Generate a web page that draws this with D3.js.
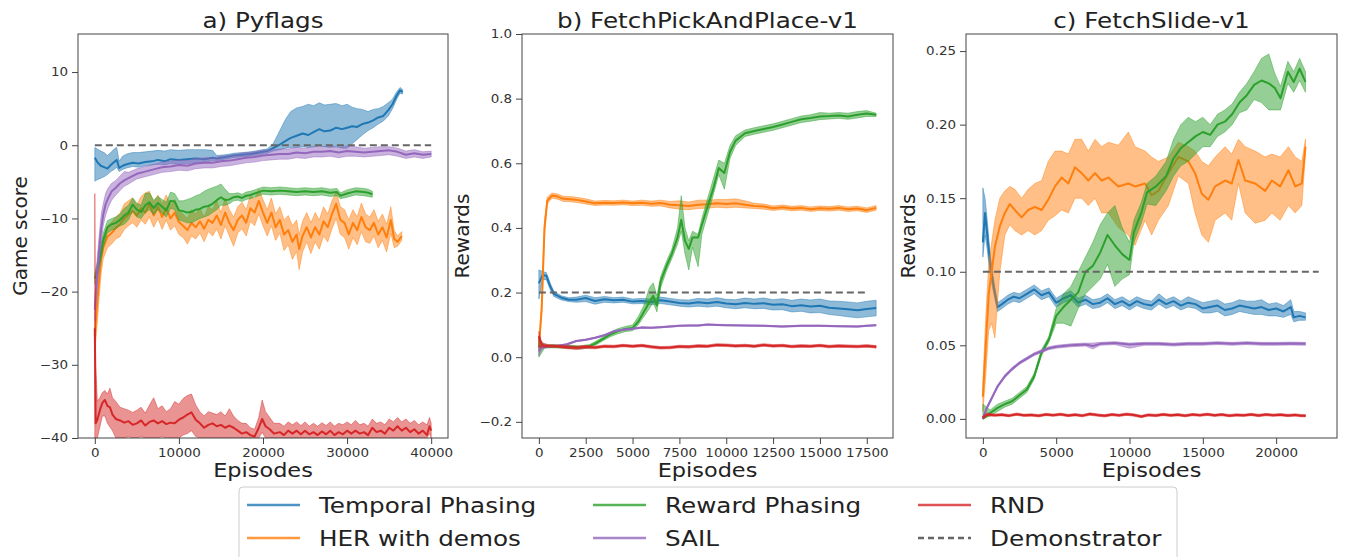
<!DOCTYPE html>
<html>
<head>
<meta charset="utf-8">
<script src="https://cdn.jsdelivr.net/npm/d3@7"></script>
<style>
  body { margin: 0; background: #fff; }
  text { font-family: "DejaVu Sans", sans-serif; }
</style>
</head>
<body>
<svg id="chart" width="1345" height="557"></svg>
<script>
// ---------------- data ----------------
// every row is [episode, mean, band low, band high]

var legendNames = ['Temporal Phasing', 'HER with demos', 'Reward Phasing', 'SAIL', 'RND', 'Demonstrator']
var panelTitles = ['a) Pyflags', 'b) FetchPickAndPlace-v1', 'c) FetchSlide-v1']
var yTitles = ['Game score', 'Rewards', 'Rewards']
var xTitle = 'Episodes'

// a) Pyflags
var pyXTicks = [0, 10000, 20000, 30000, 40000]
var pyYTicks = [-40, -30, -20, -10, 0, 10]
var pyYLabels = ['\u221240', '\u221230', '\u221220', '\u221210', '0', '10']
var pyDemo = [[0, 0], [40000, 0]]

var pyTemporal = [
  [0,-1.7,-4.9,-0.3],[300,-2.3,-4.7,-0.5],[700,-2.8,-4.5,-0.8],[1100,-3.0,-4.3,-1.0],[1500,-3.2,-4.0,-1.4],
  [1900,-2.7,-3.6,-1.0],[2300,-2.3,-3.3,-0.5],[2600,-2.0,-3.0,-0.3],[2900,-3.1,-3.6,-2.2],[3300,-2.8,-3.3,-1.5],
  [3800,-2.6,-3.1,-1.2],[4500,-2.4,-2.9,-1.0],[5200,-2.5,-3.0,-1.0],[6000,-2.3,-2.8,-0.9],[6800,-2.2,-2.7,-0.8],
  [7500,-2.0,-2.6,-0.7],[8300,-2.2,-2.7,-0.8],[9000,-1.9,-2.5,-0.6],[10000,-2.0,-2.6,-0.7],[11000,-1.9,-2.5,-0.6],
  [12000,-1.8,-2.4,-0.6],[13000,-1.9,-2.4,-0.6],[14000,-1.7,-2.1,-0.7],[14500,-1.8,-2.1,-1.4],[15500,-1.6,-1.9,-1.3],
  [16500,-1.4,-1.7,-1.1],[17500,-1.3,-1.6,-1.0],[18500,-1.2,-1.5,-0.9],[19500,-1.0,-1.3,-0.7],[20500,-0.8,-1.1,-0.5],
  [21200,-0.4,-0.8,0.2],[22000,0.1,-0.6,2.0],[22700,0.6,-0.4,3.6],[23300,1.0,-0.3,4.6],[24000,1.3,-0.3,5.1],
  [24700,1.6,-0.2,5.3],[25400,1.4,-0.3,5.6],[26000,1.8,-0.2,5.4],[26700,2.2,-0.1,5.8],[27300,1.9,-0.2,5.5],
  [28000,2.0,-0.3,5.6],[28700,2.4,-0.2,5.7],[29400,2.2,-0.4,5.4],[30000,2.4,-0.4,5.6],[30600,2.6,0.2,5.2],
  [31200,2.5,0.8,5.0],[31800,2.9,1.4,4.9],[32500,3.1,2.0,4.6],[33100,3.4,2.4,4.9],[33700,3.8,2.9,5.0],
  [34300,4.0,3.3,5.3],[34900,4.8,4.0,5.8],[35400,5.6,5.0,6.3],[35900,6.8,6.3,7.3],[36300,7.5,7.1,7.9],[36600,7.3,7.0,7.6]
]
var pyHer = [
  [0,-26,-28,-23],[250,-22,-25,-19],[500,-18.5,-21,-16],[750,-15.5,-17.5,-13.5],[1000,-14,-15.5,-12.5],
  [1500,-12.5,-14,-11],[2000,-12,-13.5,-10.5],[2500,-11.3,-12.8,-9.8],[3000,-10.8,-12.5,-9.3],[3500,-10,-11.5,-8],
  [4000,-9.5,-11,-7.6],[4500,-9,-10.6,-7.2],[5000,-9.6,-11.2,-8.2],[5500,-8.6,-10.2,-7],[6000,-9.2,-10.8,-6.5],
  [6500,-8,-9.8,-6.3],[7000,-9.6,-11.2,-7.8],[7500,-8.4,-10,-6.8],[8000,-9.8,-11.5,-8],[8500,-8.6,-10.2,-6.8],
  [9000,-10,-11.6,-8.2],[9500,-9.2,-11,-7.4],[10000,-10.5,-12.2,-8.8],[10500,-11,-12.6,-9.4],[11000,-11.6,-13.5,-10],
  [11500,-10.6,-12.4,-8.8],[12000,-11.2,-12.8,-9.4],[12500,-10.4,-12,-8.6],[13000,-11.4,-13.2,-9.8],[13500,-10.2,-11.8,-8.4],
  [14000,-10.6,-12.4,-8.8],[14500,-9.6,-11.4,-7.6],[15000,-10.9,-12.8,-9.2],[15500,-9.2,-11,-7.2],[16000,-10.6,-12.4,-8.8],
  [16500,-11.6,-13.8,-9.8],[17000,-10.2,-12,-8.4],[17500,-9.6,-11.4,-7.8],[18000,-10.6,-12.4,-8.8],[18500,-8.6,-10.4,-6.8],
  [19000,-9.2,-11,-7.4],[19500,-7.6,-9.4,-6],[20000,-9.2,-11,-7.4],[20500,-10.6,-12.4,-8.8],[21000,-9.2,-11,-7.2],
  [21500,-11.2,-13,-9.4],[22000,-10.2,-12,-8.4],[22500,-12.2,-14.4,-10.2],[23000,-11.6,-13.6,-9.6],[23500,-13.2,-15.6,-11],
  [24000,-12.2,-14.5,-10.2],[24300,-14.2,-17.0,-12.2],[24700,-12.4,-14.6,-10.4],[25200,-11.2,-13.2,-9.2],[25700,-12.6,-14.8,-10.6],
  [26200,-11.2,-13.2,-9.2],[26700,-12.2,-14.2,-10.2],[27200,-10.4,-12.4,-8.4],[27700,-11.2,-13.2,-9.4],[28200,-9.4,-11.4,-7.6],
  [28700,-8.0,-10,-6.4],[29200,-10.2,-12.2,-8.4],[29700,-10.6,-12.6,-8.8],[30200,-12.2,-14.2,-10.2],[30700,-10.6,-12.6,-8.8],
  [31200,-11.6,-13.6,-9.8],[31700,-9.8,-11.8,-7.9],[32200,-11.2,-13.2,-9.4],[32700,-11.6,-13.4,-9.8],[33200,-10.6,-12.4,-8.8],
  [33700,-12.2,-14,-10.4],[34200,-11.2,-13,-9.4],[34700,-12.6,-14.6,-10.8],[35200,-10.2,-12,-8.4],[35600,-12.8,-14,-11.6],
  [36000,-13.2,-13.8,-12.4],[36500,-12.4,-13,-11.8]
]
var pyReward = [
  [0,-18.2,-19,-17.4],[300,-17,-18,-16],[600,-15.5,-16.5,-14.5],[1000,-13,-14,-12],[1500,-11.2,-12,-10.3],
  [2000,-10.8,-11.6,-10],[2500,-10.6,-11.4,-9.8],[3000,-10.2,-11,-9.4],[3500,-9.6,-10.8,-8.6],[4000,-9.2,-10.2,-8.2],
  [4500,-8.1,-9,-7.2],[5000,-8.8,-9.8,-7.9],[5500,-9.1,-10,-8.2],[6000,-8.2,-9.2,-6.6],[6500,-7.8,-8.8,-6.5],
  [7000,-8.6,-9.5,-7.5],[7500,-7.9,-8.8,-7],[8000,-8.4,-9.3,-7.4],[8500,-8.9,-9.8,-7.8],[9000,-7.6,-8.6,-6.4],
  [9500,-7.7,-8.8,-6.6],[10000,-8.9,-10.2,-7.6],[10500,-9.0,-10.4,-7.6],[11000,-9.2,-10.6,-7.4],[11500,-9.1,-10.6,-7.2],
  [12000,-8.8,-10.3,-6.9],[12500,-8.7,-10.0,-6.7],[13000,-8.4,-9.8,-6.3],[13500,-8.3,-9.6,-6.0],[14000,-8.0,-9.2,-5.8],
  [14500,-7.5,-8.8,-5.6],[15000,-7.1,-8.2,-5.3],[15500,-7.5,-8.2,-6.0],[16000,-7.4,-8.0,-6.6],[16500,-7.1,-7.6,-6.6],
  [17000,-7.0,-7.5,-6.5],[17500,-7.2,-7.7,-6.7],[18000,-6.9,-7.4,-6.4],[18500,-6.8,-7.3,-6.3],[19000,-6.6,-7.1,-6.1],
  [19500,-6.4,-6.9,-5.9],[20000,-6.2,-6.7,-5.7],[21000,-6.3,-6.8,-5.8],[22000,-6.2,-6.7,-5.7],[23000,-6.3,-6.8,-5.8],
  [24000,-6.4,-6.9,-5.9],[25000,-6.3,-6.8,-5.8],[26000,-6.4,-6.9,-5.9],[27000,-6.3,-6.8,-5.8],[28000,-6.5,-7.0,-6.0],
  [28800,-6.4,-6.9,-5.9],[29200,-6.9,-7.3,-6.5],[30000,-6.6,-7.1,-6.1],[31000,-6.3,-6.8,-5.8],[32000,-6.4,-6.9,-5.9],
  [32500,-6.5,-7.0,-6.0],[33000,-6.7,-7.1,-6.3]
]
var pySail = [
  [0,-22.5,-24,-21],[250,-18,-20,-16],[500,-14.5,-16.5,-12.5],[750,-11.5,-13.5,-9.5],[1000,-9.5,-11,-8],
  [1300,-8,-9.5,-6.5],[1600,-7.2,-8.5,-5.8],[2000,-6.3,-7.5,-5.2],[2500,-5.8,-6.8,-4.8],[3000,-5.2,-6.2,-4.2],
  [3500,-4.8,-5.6,-3.6],[4000,-4.5,-5.3,-3.7],[5000,-3.9,-4.6,-3.2],[6000,-3.6,-4.3,-2.9],[7000,-3.3,-4.0,-2.6],
  [8000,-3.0,-3.7,-2.3],[9000,-2.9,-3.6,-2.2],[10000,-2.7,-3.4,-2.0],[11000,-2.8,-3.5,-2.1],[12000,-2.5,-3.2,-1.8],
  [13000,-2.4,-3.1,-1.7],[14000,-2.4,-3.1,-1.7],[15000,-2.2,-2.9,-1.5],[16000,-2.1,-2.8,-1.4],[17000,-1.9,-2.6,-1.2],
  [18000,-1.7,-2.4,-1.0],[19000,-1.6,-2.3,-0.9],[20000,-1.4,-2.1,-0.7],[21000,-1.3,-2.0,-0.6],[22000,-1.2,-1.9,-0.5],
  [23000,-1.2,-1.9,-0.5],[24000,-1.0,-1.7,-0.3],[25000,-1.1,-1.8,-0.4],[26000,-0.9,-1.6,-0.2],[27000,-0.9,-1.6,-0.2],
  [28000,-0.8,-1.5,-0.1],[29000,-1.0,-1.7,-0.3],[30000,-0.8,-1.5,-0.1],[31000,-0.9,-1.5,-0.2],[32000,-1.0,-1.6,-0.4],
  [33000,-0.9,-1.5,-0.3],[34000,-0.8,-1.4,-0.2],[35000,-0.7,-1.3,-0.2],[36000,-0.9,-1.5,-0.4],[37000,-1.3,-1.8,-0.8],
  [38000,-1.1,-1.6,-0.6],[39000,-1.3,-1.8,-0.9],[40000,-1.2,-1.6,-0.8]
]
var pyRnd = [
  [0,-25,-40,-6.6],[100,-38,-40,-30],[300,-37.5,-40,-35],[600,-36.2,-38.5,-34.5],[900,-35.2,-37,-33.8],
  [1200,-34.8,-37,-33.5],[1500,-35.6,-38,-34],[1800,-35.8,-38.5,-33.2],[2100,-36.8,-39,-34.5],[2500,-37.4,-40,-35],
  [3000,-37.6,-40,-35.8],[3500,-37.9,-40,-36],[4000,-37.7,-39.8,-36.2],[4500,-38.2,-40,-36.5],[5000,-38.0,-40,-36.2],
  [5500,-37.6,-39.8,-35.8],[6000,-38.3,-40,-36.6],[6500,-37.8,-40,-35.5],[7000,-37.6,-40,-34.5],[7500,-38.0,-40,-36],
  [8000,-37.7,-39.8,-35.6],[8500,-38.1,-40,-36.4],[9000,-37.9,-40,-36],[9500,-38.0,-40,-35],[10000,-37.5,-40,-35.4],
  [10500,-37.2,-39.6,-34.6],[11000,-36.8,-39.4,-34.2],[11500,-36.5,-39,-34],[12000,-37.5,-39.8,-35.5],[12500,-38.0,-40,-36.4],
  [13000,-38.6,-40,-37],[13500,-38.2,-40,-36.4],[14000,-38.0,-40,-36.6],[14500,-38.4,-40,-36.8],[15000,-38.2,-40,-36.4],
  [15500,-38.6,-40,-37],[16000,-38.3,-40,-36],[16500,-38.6,-40,-37],[17000,-39.0,-40,-37.6],[17500,-39.4,-40,-38],
  [18000,-39.2,-40,-38],[18500,-39.6,-40,-38.6],[19000,-39.8,-40,-38.8],[19500,-38.6,-40,-37.2],[19900,-37.4,-39.2,-34.8],
  [20300,-38.4,-40,-36.4],[20800,-38.8,-40,-37.2],[21300,-39.4,-40,-38],[22000,-39.2,-40,-38],[22500,-39.6,-40,-38.4],
  [23000,-39.0,-40,-37.8],[23500,-39.4,-40,-38.2],[24000,-39.0,-40,-37.8],[24500,-39.5,-40,-38.3],[25000,-39.0,-40,-37.8],
  [25500,-39.5,-40,-38.4],[26000,-39.2,-40,-38],[26500,-39.6,-40,-38.4],[27000,-39.1,-40,-37.9],[27500,-39.5,-40,-38.3],
  [28000,-39.0,-40,-37.8],[28500,-39.6,-40,-38.4],[29000,-39.2,-40,-38],[29500,-39.5,-40,-38.2],[30000,-39.0,-40,-37.8],
  [30500,-39.4,-40,-38.2],[31000,-39.0,-40,-37.6],[31500,-39.4,-40,-38.2],[32000,-39.2,-40,-38],[32500,-39.6,-40,-38.4],
  [33000,-38.6,-40,-37.4],[33500,-39.2,-40,-38],[34000,-39.0,-40,-37.8],[34500,-39.4,-40,-38.2],[35000,-38.6,-40,-37.4],
  [35500,-39.0,-40,-37.8],[36000,-38.4,-40,-37.2],[36500,-39.0,-40,-37.8],[37000,-38.6,-40,-37.4],[37500,-39.2,-40,-38],
  [38000,-38.8,-40,-37.6],[38500,-39.4,-40,-38.2],[39000,-39.0,-40,-37.8],[39500,-39.6,-40,-38.2],[39800,-38.4,-39.4,-37.2],
  [40000,-39.0,-40,-38]
]

// b) FetchPickAndPlace-v1
var fpXTicks = [0, 2500, 5000, 7500, 10000, 12500, 15000, 17500]
var fpYTicks = [-0.2, 0, 0.2, 0.4, 0.6, 0.8, 1.0]
var fpYLabels = ['\u22120.2', '0.0', '0.2', '0.4', '0.6', '0.8', '1.0']
var fpDemo = [[0, 0.2], [17500, 0.2]]

var fpTemporal = [
  [0,0.229,0.18,0.27],[200,0.254,0.24,0.265],[400,0.252,0.24,0.262],[600,0.22,0.21,0.23],[800,0.196,0.188,0.204],
  [1200,0.184,0.177,0.19],[1600,0.178,0.172,0.184],[2000,0.178,0.17,0.186],[2500,0.183,0.172,0.192],[3000,0.174,0.164,0.184],
  [3500,0.179,0.17,0.188],[4000,0.176,0.168,0.184],[4500,0.178,0.17,0.186],[5000,0.172,0.165,0.18],[5500,0.174,0.166,0.182],
  [6000,0.171,0.162,0.18],[6500,0.176,0.166,0.186],[7000,0.172,0.162,0.182],[7500,0.168,0.158,0.178],[8000,0.166,0.155,0.177],
  [8500,0.17,0.158,0.182],[9000,0.167,0.155,0.18],[9500,0.171,0.158,0.184],[10000,0.166,0.153,0.179],[10500,0.164,0.15,0.178],
  [11000,0.168,0.153,0.183],[11500,0.165,0.15,0.18],[12000,0.167,0.151,0.183],[12500,0.162,0.146,0.178],[13000,0.164,0.147,0.181],
  [13500,0.158,0.14,0.176],[14000,0.161,0.142,0.18],[14500,0.157,0.137,0.177],[15000,0.159,0.138,0.18],[15500,0.153,0.132,0.174],
  [16000,0.151,0.129,0.173],[16500,0.148,0.125,0.171],[17000,0.145,0.122,0.168],[17500,0.149,0.125,0.173],[18000,0.152,0.128,0.176]
]
var fpHer = [
  [0,0.03,0.02,0.04],[150,0.15,0.13,0.17],[300,0.4,0.38,0.42],[450,0.485,0.475,0.495],[700,0.5,0.492,0.508],
  [1000,0.497,0.489,0.505],[1300,0.49,0.482,0.498],[1700,0.489,0.481,0.497],[2100,0.486,0.478,0.494],[2500,0.482,0.474,0.49],
  [3000,0.476,0.469,0.483],[3500,0.478,0.471,0.485],[4000,0.477,0.47,0.484],[4500,0.479,0.472,0.486],[5000,0.476,0.469,0.483],
  [5500,0.478,0.47,0.486],[6000,0.475,0.467,0.483],[6500,0.477,0.468,0.486],[7000,0.472,0.462,0.482],[7500,0.47,0.458,0.484],
  [8000,0.468,0.456,0.48],[8500,0.472,0.46,0.486],[9000,0.473,0.461,0.486],[9500,0.476,0.464,0.488],[10000,0.474,0.462,0.488],
  [10500,0.476,0.464,0.49],[11000,0.472,0.462,0.484],[11500,0.468,0.46,0.476],[12000,0.466,0.458,0.474],[12500,0.461,0.454,0.468],
  [13000,0.464,0.457,0.471],[13500,0.46,0.453,0.467],[14000,0.462,0.455,0.469],[14500,0.458,0.451,0.465],[15000,0.461,0.454,0.468],
  [15500,0.459,0.452,0.466],[16000,0.462,0.455,0.469],[16500,0.458,0.451,0.465],[17000,0.46,0.453,0.467],[17500,0.455,0.448,0.462],
  [18000,0.462,0.455,0.469]
]
var fpReward = [
  [0,0.035,0.0,0.06],[300,0.033,0.028,0.038],[700,0.034,0.029,0.039],[1200,0.033,0.028,0.038],[1700,0.032,0.027,0.037],
  [2200,0.03,0.025,0.035],[2700,0.034,0.029,0.039],[3000,0.042,0.036,0.048],[3400,0.056,0.05,0.062],[3800,0.07,0.063,0.077],
  [4200,0.08,0.072,0.088],[4600,0.087,0.079,0.095],[5000,0.09,0.082,0.1],[5300,0.11,0.1,0.125],[5600,0.14,0.125,0.16],
  [5900,0.17,0.15,0.215],[6100,0.19,0.17,0.23],[6300,0.16,0.14,0.19],[6500,0.235,0.215,0.25],[6800,0.28,0.265,0.295],
  [7100,0.32,0.305,0.335],[7400,0.37,0.35,0.4],[7600,0.425,0.39,0.5],[7800,0.36,0.32,0.4],[8000,0.335,0.27,0.36],
  [8200,0.37,0.34,0.39],[8500,0.37,0.28,0.38],[8700,0.41,0.38,0.43],[9000,0.465,0.44,0.49],[9300,0.52,0.5,0.55],
  [9600,0.585,0.565,0.61],[9900,0.57,0.52,0.6],[10200,0.635,0.615,0.655],[10500,0.67,0.655,0.685],[11000,0.693,0.683,0.703],
  [11500,0.7,0.69,0.71],[12000,0.706,0.696,0.716],[12500,0.712,0.702,0.722],[13000,0.72,0.71,0.73],[13500,0.728,0.718,0.738],
  [14000,0.736,0.726,0.746],[14500,0.74,0.73,0.75],[15000,0.745,0.735,0.757],[15500,0.746,0.737,0.755],[16000,0.748,0.739,0.757],
  [16500,0.745,0.736,0.755],[17000,0.75,0.74,0.76],[17500,0.754,0.745,0.763],[18000,0.75,0.745,0.755]
]
var fpSail = [
  [0,0.018,0.005,0.035],[150,0.03,0.025,0.035],[500,0.034,0.032,0.036],[1000,0.035,0.033,0.037],[1500,0.04,0.038,0.042],
  [2000,0.05,0.048,0.052],[2500,0.054,0.052,0.056],[3000,0.06,0.058,0.062],[3500,0.068,0.066,0.07],[4000,0.08,0.078,0.082],
  [4500,0.085,0.083,0.087],[5000,0.088,0.086,0.09],[5500,0.092,0.09,0.094],[6000,0.091,0.089,0.093],[6500,0.093,0.091,0.095],
  [7000,0.095,0.093,0.097],[7500,0.097,0.095,0.099],[8000,0.098,0.096,0.1],[8500,0.098,0.096,0.1],[9000,0.101,0.099,0.103],
  [9500,0.1,0.098,0.102],[10000,0.099,0.097,0.101],[11000,0.098,0.096,0.1],[12000,0.097,0.095,0.099],[13000,0.095,0.093,0.097],
  [14000,0.097,0.095,0.099],[15000,0.097,0.095,0.099],[16000,0.096,0.094,0.098],[17000,0.095,0.093,0.097],[17500,0.097,0.095,0.099],
  [18000,0.099,0.097,0.101]
]
var fpRnd = [
  [0,0.065,0.03,0.08],[150,0.038,0.03,0.045],[500,0.035,0.031,0.039],[1000,0.034,0.03,0.038],[1500,0.031,0.026,0.036],
  [2000,0.029,0.024,0.034],[2500,0.032,0.027,0.037],[3000,0.03,0.026,0.034],[3500,0.034,0.03,0.038],[4000,0.033,0.029,0.037],
  [4500,0.036,0.032,0.04],[5000,0.034,0.03,0.038],[5500,0.036,0.032,0.04],[6000,0.032,0.028,0.036],[6500,0.029,0.025,0.033],
  [7000,0.03,0.026,0.034],[7500,0.033,0.029,0.037],[8000,0.032,0.028,0.036],[8500,0.035,0.031,0.039],[9000,0.034,0.03,0.038],
  [9500,0.038,0.034,0.042],[10000,0.037,0.033,0.041],[10500,0.035,0.031,0.039],[11000,0.036,0.032,0.04],[11500,0.034,0.03,0.038],
  [12000,0.038,0.034,0.042],[12500,0.035,0.031,0.039],[13000,0.036,0.032,0.04],[13500,0.033,0.029,0.037],[14000,0.035,0.031,0.039],
  [14500,0.034,0.03,0.038],[15000,0.036,0.032,0.04],[15500,0.033,0.029,0.037],[16000,0.035,0.031,0.039],[16500,0.034,0.03,0.038],
  [17000,0.033,0.029,0.037],[17500,0.035,0.031,0.039],[18000,0.032,0.028,0.036]
]

// c) FetchSlide-v1
var fsXTicks = [0, 5000, 10000, 15000, 20000]
var fsYTicks = [0, 0.05, 0.10, 0.15, 0.20, 0.25]
var fsYLabels = ['0.00', '0.05', '0.10', '0.15', '0.20', '0.25']
var fsDemo = [[0, 0.1], [22900, 0.1]]

var fsTemporal = [
  [0,0.12,0.11,0.157],[150,0.14,0.125,0.15],[300,0.125,0.115,0.135],[500,0.105,0.098,0.112],[700,0.092,0.087,0.097],
  [1000,0.076,0.073,0.079],[1300,0.078,0.075,0.081],[1700,0.081,0.078,0.084],[2100,0.083,0.08,0.086],[2500,0.082,0.079,0.085],
  [3000,0.085,0.082,0.088],[3500,0.088,0.085,0.091],[4000,0.084,0.081,0.087],[4500,0.086,0.083,0.089],[5000,0.079,0.076,0.082],
  [5500,0.082,0.079,0.085],[6000,0.084,0.081,0.087],[6500,0.079,0.076,0.082],[7000,0.081,0.078,0.084],[7500,0.078,0.075,0.081],
  [8000,0.079,0.076,0.082],[8500,0.082,0.079,0.085],[9000,0.078,0.075,0.081],[9500,0.08,0.077,0.083],[10000,0.077,0.074,0.08],
  [10500,0.08,0.077,0.083],[11000,0.078,0.075,0.081],[11500,0.077,0.074,0.08],[12000,0.081,0.078,0.085],[12500,0.078,0.075,0.081],
  [13000,0.08,0.077,0.083],[13500,0.077,0.074,0.08],[14000,0.079,0.076,0.083],[14500,0.078,0.075,0.081],[15000,0.075,0.072,0.079],
  [15500,0.076,0.072,0.08],[16000,0.077,0.073,0.081],[16500,0.074,0.07,0.078],[17000,0.075,0.071,0.079],[17500,0.077,0.073,0.081],
  [18000,0.076,0.072,0.08],[18500,0.075,0.071,0.08],[19000,0.076,0.071,0.081],[19500,0.074,0.07,0.078],[20000,0.075,0.07,0.079],
  [20500,0.073,0.069,0.077],[21000,0.076,0.071,0.081],[21200,0.069,0.066,0.073],[21600,0.07,0.067,0.073],[22000,0.069,0.067,0.072]
]
var fsHer = [
  [0,0.015,0.005,0.025],[200,0.05,0.03,0.07],[400,0.085,0.06,0.105],[600,0.1,0.065,0.12],[820,0.117,0.055,0.135],
  [1160,0.131,0.1,0.15],[1500,0.14,0.125,0.155],[1840,0.146,0.132,0.158],[2180,0.142,0.128,0.156],[2640,0.137,0.125,0.15],
  [3090,0.142,0.128,0.156],[3550,0.144,0.125,0.16],[4010,0.142,0.128,0.162],[4460,0.149,0.135,0.175],[4920,0.158,0.138,0.182],
  [5370,0.164,0.142,0.182],[5830,0.16,0.14,0.18],[6280,0.171,0.15,0.19],[6740,0.167,0.15,0.19],[7190,0.162,0.145,0.182],
  [7650,0.167,0.15,0.19],[8100,0.162,0.14,0.185],[8560,0.164,0.14,0.188],[9240,0.158,0.13,0.186],[9920,0.16,0.125,0.195],
  [10380,0.158,0.118,0.185],[11060,0.16,0.135,0.182],[11510,0.152,0.125,0.178],[11970,0.155,0.135,0.175],[12650,0.167,0.145,0.178],
  [13330,0.178,0.165,0.188],[14020,0.175,0.16,0.185],[14470,0.167,0.14,0.182],[14930,0.153,0.125,0.175],[15380,0.149,0.12,0.172],
  [15840,0.158,0.135,0.178],[16520,0.162,0.14,0.185],[16970,0.16,0.135,0.18],[17430,0.176,0.16,0.19],[17890,0.162,0.14,0.185],
  [18570,0.16,0.133,0.182],[19250,0.155,0.135,0.178],[19710,0.162,0.14,0.18],[20270,0.158,0.135,0.178],[20840,0.169,0.145,0.185],
  [21300,0.158,0.14,0.178],[21750,0.16,0.145,0.175],[22000,0.185,0.18,0.19]
]
var fsReward = [
  [0,0.0,0.0,0.01],[500,0.004,0.002,0.006],[1000,0.0075,0.005,0.01],[1500,0.01,0.008,0.012],[2000,0.012,0.01,0.014],
  [2500,0.016,0.014,0.018],[3000,0.02,0.018,0.022],[3500,0.029,0.027,0.031],[4000,0.045,0.043,0.047],[4500,0.054,0.052,0.056],
  [5000,0.07,0.065,0.075],[5500,0.076,0.065,0.085],[6000,0.081,0.063,0.09],[6500,0.086,0.075,0.1],[7000,0.1,0.085,0.11],
  [7500,0.104,0.09,0.12],[8000,0.113,0.095,0.132],[8500,0.125,0.105,0.14],[9000,0.118,0.09,0.145],[9500,0.112,0.095,0.13],
  [10000,0.108,0.098,0.12],[10300,0.127,0.12,0.135],[10800,0.14,0.133,0.147],[11200,0.154,0.146,0.16],[11800,0.158,0.145,0.165],
  [12500,0.165,0.155,0.175],[13000,0.177,0.165,0.19],[13500,0.184,0.172,0.2],[14000,0.188,0.175,0.205],[14500,0.192,0.18,0.202],
  [15000,0.195,0.185,0.205],[15500,0.193,0.185,0.2],[16000,0.2,0.192,0.207],[16500,0.202,0.195,0.21],[17000,0.207,0.2,0.214],
  [17500,0.215,0.208,0.222],[18000,0.22,0.21,0.228],[18500,0.227,0.217,0.236],[19000,0.23,0.215,0.245],[19500,0.228,0.21,0.248],
  [19900,0.225,0.21,0.235],[20300,0.218,0.21,0.226],[20800,0.236,0.228,0.243],[21200,0.229,0.222,0.236],[21600,0.238,0.23,0.245],
  [22000,0.229,0.222,0.236]
]
var fsSail = [
  [0,0.0,0.0,0.001],[250,0.007,0.006,0.008],[500,0.012,0.011,0.013],[750,0.017,0.016,0.018],[1000,0.022,0.021,0.023],
  [1500,0.029,0.028,0.03],[2000,0.034,0.033,0.035],[2500,0.038,0.037,0.039],[3000,0.041,0.04,0.042],[3500,0.044,0.043,0.045],
  [4000,0.046,0.045,0.047],[4500,0.048,0.047,0.049],[5000,0.049,0.048,0.05],[6000,0.05,0.049,0.051],[7000,0.0505,0.0495,0.0515],
  [7500,0.0495,0.0475,0.0515],[8000,0.051,0.05,0.052],[9000,0.0515,0.0505,0.0525],[10000,0.0505,0.048,0.0515],[11000,0.051,0.05,0.052],
  [12000,0.051,0.05,0.052],[13000,0.0505,0.0495,0.0515],[14000,0.051,0.05,0.052],[15000,0.051,0.05,0.052],[16000,0.0515,0.0505,0.0525],
  [17000,0.051,0.05,0.052],[18000,0.0515,0.0505,0.0525],[19000,0.051,0.05,0.052],[20000,0.051,0.05,0.052],[21000,0.0512,0.0502,0.0522],
  [22000,0.051,0.05,0.052]
]
var fsRnd = [
  [0,0.001,0.0,0.002],[300,0.003,0.002,0.004],[800,0.0025,0.0017,0.0033],[1300,0.0028,0.002,0.0036],[1800,0.0022,0.0014,0.003],
  [2300,0.0032,0.0024,0.004],[2800,0.0024,0.0016,0.0032],[3300,0.0027,0.0019,0.0035],[3800,0.0021,0.0013,0.0029],[4300,0.003,0.0022,0.0038],
  [4800,0.0025,0.0017,0.0033],[5300,0.0031,0.0023,0.0039],[5800,0.0023,0.0015,0.0031],[6300,0.0028,0.002,0.0036],[6800,0.0022,0.0014,0.003],
  [7300,0.0033,0.0025,0.0041],[7800,0.0026,0.0018,0.0034],[8300,0.0021,0.0013,0.0029],[8800,0.0029,0.0021,0.0037],[9300,0.0024,0.0016,0.0032],
  [9800,0.0032,0.0024,0.004],[10300,0.0026,0.0018,0.0034],[10800,0.0016,0.0008,0.0024],[11300,0.0027,0.0019,0.0035],[11800,0.0023,0.0015,0.0031],
  [12300,0.003,0.0022,0.0038],[12800,0.0024,0.0016,0.0032],[13300,0.0028,0.002,0.0036],[13800,0.0022,0.0014,0.003],[14300,0.0029,0.0021,0.0037],
  [14800,0.0025,0.0017,0.0033],[15300,0.0031,0.0023,0.0039],[15800,0.0024,0.0016,0.0032],[16300,0.0029,0.0021,0.0037],[16800,0.0022,0.0014,0.003],
  [17300,0.0027,0.0019,0.0035],[17800,0.0024,0.0016,0.0032],[18300,0.003,0.0022,0.0038],[18800,0.0023,0.0015,0.0031],[19300,0.0029,0.0021,0.0037],
  [19800,0.0025,0.0017,0.0033],[20300,0.0028,0.002,0.0036],[20800,0.0023,0.0015,0.0031],[21300,0.0027,0.0019,0.0035],[21700,0.0022,0.0014,0.003],
  [22000,0.0021,0.0013,0.0029]
]

// ---------------- drawing ----------------
var COLORS = ['#1f77b4', '#ff7f0e', '#2ca02c', '#9467bd', '#d62728']  // temporal, her, reward, sail, rnd
var DEMO_COLOR = '#666'
var STRETCH = 1.12   // the reference is a bit wider than tall

var svg = d3.select('#chart')
var plotTop = 34, plotBottom = 438

var panels = [
  { left: 78, right: 448, xDomain: [-2000, 42000], yDomain: [-40, 15.2],
    xTicks: pyXTicks, yTicks: pyYTicks, yLabels: pyYLabels, yTitleX: 20,
    series: [pyTemporal, pyHer, pyReward, pySail, pyRnd], demo: pyDemo },
  { left: 522, right: 893, xDomain: [-900, 18900], yDomain: [-0.25, 1.0],
    xTicks: fpXTicks, yTicks: fpYTicks, yLabels: fpYLabels, yTitleX: 462,
    series: [fpTemporal, fpHer, fpReward, fpSail, fpRnd], demo: fpDemo },
  { left: 966, right: 1337, xDomain: [-1150, 24150], yDomain: [-0.013, 0.2616],
    xTicks: fsXTicks, yTicks: fsYTicks, yLabels: fsYLabels, yTitleX: 908,
    series: [fsTemporal, fsHer, fsReward, fsSail, fsRnd], demo: fsDemo }
]

var stretch = function(sel) {
  sel.each(function() {
    var w = this.getComputedTextLength()
    this.setAttribute('textLength', w * STRETCH)
    this.setAttribute('lengthAdjust', 'spacingAndGlyphs')
  })
}

panels.forEach(function(p, pi) {
  var x = d3.scaleLinear().domain(p.xDomain).range([p.left, p.right])
  var y = d3.scaleLinear().domain(p.yDomain).range([plotBottom, plotTop])
  var g = svg.append('g')

  g.append('clipPath').attr('id', 'clip' + pi)
    .append('rect').attr('x', p.left).attr('y', plotTop)
    .attr('width', p.right - p.left).attr('height', plotBottom - plotTop)

  var plot = g.append('g').attr('clip-path', 'url(#clip' + pi + ')')

  var area = d3.area().x(function(d) { return x(d[0]) })
    .y0(function(d) { return y(d[2]) }).y1(function(d) { return y(d[3]) })
  var line = d3.line().x(function(d) { return x(d[0]) }).y(function(d) { return y(d[1]) })

  p.series.forEach(function(s, si) {
    plot.append('path').attr('d', area(s))
      .attr('fill', COLORS[si]).attr('fill-opacity', 0.5)
      .attr('stroke', COLORS[si]).attr('stroke-opacity', 0.45).attr('stroke-width', 1)
    plot.append('path').attr('d', line(s))
      .attr('fill', 'none').attr('stroke', COLORS[si]).attr('stroke-width', 2)
      .attr('stroke-linejoin', 'round')
  })

  plot.append('path')
    .attr('d', d3.line().x(function(d) { return x(d[0]) }).y(function(d) { return y(d[1]) })(p.demo))
    .attr('fill', 'none').attr('stroke', DEMO_COLOR).attr('stroke-width', 2)
    .attr('stroke-dasharray', '7,4')

  // axes
  var xAxis = g.append('g').attr('transform', 'translate(0,' + plotBottom + ')')
    .call(d3.axisBottom(x).tickValues(p.xTicks).tickFormat(d3.format('d')).tickSize(6).tickPadding(4))
  var yAxis = g.append('g').attr('transform', 'translate(' + p.left + ',0)')
    .call(d3.axisLeft(y).tickValues(p.yTicks).tickFormat(function(d, i) { return p.yLabels[i] }).tickSize(6).tickPadding(4))

  ;[xAxis, yAxis].forEach(function(a) {
    a.select('.domain').remove()
    a.selectAll('line').attr('stroke', '#444')
    a.selectAll('text').attr('font-size', 12).attr('fill', '#333')
      .style('font-family', '"DejaVu Sans", sans-serif')
    stretch(a.selectAll('text'))
  })

  g.append('rect').attr('x', p.left).attr('y', plotTop)
    .attr('width', p.right - p.left).attr('height', plotBottom - plotTop)
    .attr('fill', 'none').attr('stroke', '#444').attr('stroke-width', 1)

  // titles
  var cx = (p.left + p.right) / 2
  g.append('text').attr('x', cx).attr('y', 28).attr('text-anchor', 'middle')
    .attr('font-size', 22).attr('fill', '#222').text(panelTitles[pi]).call(stretch)
  g.append('text').attr('x', cx).attr('y', 477).attr('text-anchor', 'middle')
    .attr('font-size', 20).attr('fill', '#222').text(xTitle).call(stretch)
  g.append('text').attr('transform', 'translate(' + (p.yTitleX + 7) + ',' + ((plotTop + plotBottom) / 2) + ') rotate(-90)')
    .attr('text-anchor', 'middle').attr('font-size', 20).attr('fill', '#222').text(yTitles[pi])
})

// ---------------- legend ----------------
var legend = svg.append('g')
legend.append('rect').attr('x', 239).attr('y', 487).attr('width', 938).attr('height', 90)
  .attr('rx', 4).attr('fill', '#fff').attr('stroke', '#ccc').attr('stroke-width', 1)

var legendCols = [247, 593, 918]
var legendRows = [505, 538]
var legendColors = [COLORS[0], COLORS[1], COLORS[2], COLORS[3], COLORS[4], DEMO_COLOR]

legendNames.forEach(function(name, i) {
  var col = Math.floor(i / 2), row = i % 2
  var lx = legendCols[col], ly = legendRows[row]
  legend.append('line').attr('x1', lx).attr('x2', lx + 53).attr('y1', ly).attr('y2', ly)
    .attr('stroke', legendColors[i]).attr('stroke-width', 2.5)
    .attr('stroke-opacity', i === 5 ? 1 : 0.8)
    .attr('stroke-dasharray', i === 5 ? '6,4' : null)
  legend.append('text').attr('x', lx + 72).attr('y', ly + 8)
    .attr('font-size', 22).attr('fill', '#222').text(name).call(stretch)
})
</script>
</body>
</html>
